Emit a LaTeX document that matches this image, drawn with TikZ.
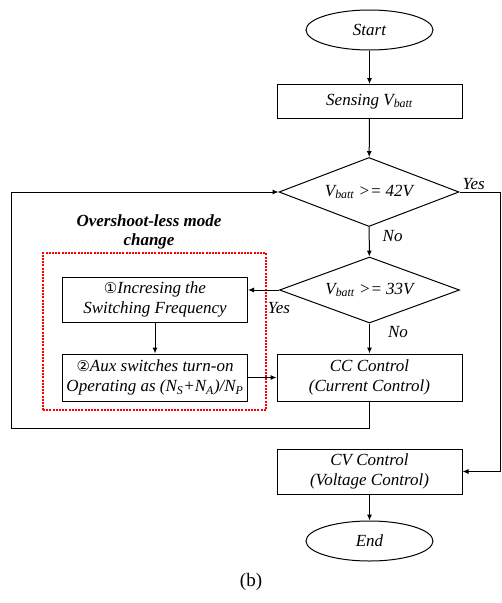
\documentclass[tikz,border=0pt]{standalone}
\usepackage{fontspec}
\setmainfont{Liberation Serif}
\newfontfamily\circfont{DejaVu Sans}
\usetikzlibrary{shapes.geometric,arrows.meta}
\begin{document}
\begin{tikzpicture}[
    x=1pt, y=1pt,
    font=\fontsize{17}{20}\selectfont\itshape,
    every path/.style={line width=1pt},
    term/.style={ellipse, draw, minimum width=127, minimum height=40, inner sep=0pt},
    proc/.style={rectangle, draw, minimum width=185, minimum height=45, align=center, inner sep=1pt},
    test/.style={diamond, draw, aspect=2.6, minimum width=180, minimum height=69, inner sep=0pt},
    grpbox/.style={rectangle, draw=red, dash pattern=on 2pt off 1.2pt, line width=1.2pt, minimum width=223, minimum height=157},
    arrow/.style={-{Latex[length=6pt,width=5pt]}},
    lbl/.style={inner sep=2pt}
]
\useasboundingbox (0,0) rectangle (502,-603);

\node[term] (start) at (369.5,-30) {Start};
\node[proc, minimum height=34] (sense) at (369.5,-101.5) {Sensing V\textsubscript{batt}};
\node[test] (dec1) at (369,-192) {V\textsubscript{batt} >= 42V};
\node[test, minimum height=66] (dec2) at (369.5,-290) {V\textsubscript{batt} >= 33V};
\node[proc] (freq) at (155,-299.5) {{\circfont\fontsize{15}{20}\selectfont ①}Incresing the\\Switching Frequency};
\node[proc, minimum height=47] (aux) at (155,-377.5) {{\circfont\fontsize{15}{20}\selectfont ②}Aux switches turn-on\\Operating as (N\textsubscript{S}+N\textsubscript{A})/N\textsubscript{P}};
\node[proc, minimum height=47] (cc) at (369.5,-377.5) {CC Control\\(Current Control)};
\node[proc] (cv) at (369.5,-471.5) {CV Control\\(Voltage Control)};
\node[term] (end) at (369.5,-541) {End};

\node[grpbox] (grp) at (154.5,-331.5) {};
\node[align=center, font=\fontsize{17}{19}\selectfont\bfseries\itshape] (title) at (149,-232) {Overshoot-less mode\\change};
\node[font=\fontsize{19}{22}\selectfont\upshape] (cap) at (251,-582) {(b)};

\coordinate (rt) at (500,-192);
\coordinate (lb) at (11,-428);

\draw[arrow] (start) -- (sense);
\draw[arrow] (sense) -- (dec1);
\draw[arrow] (dec1) -- node[lbl, right=11pt, pos=0.3] {No} (dec2);
\draw[arrow] (dec2) -- node[lbl, right=16pt, pos=0.3] {No} (cc);
\draw[arrow] (dec2.west) -- node[lbl, below=10pt, pos=0] {Yes} (dec2.west -| freq.east);
\draw[arrow] (freq) -- (aux);
\draw[arrow] (aux) -- (cc);
\draw[arrow] (dec1.east) -- node[lbl, above, pos=0.35] {Yes} (rt) |- (cv.east);
\draw[arrow] (cc.south) |- (lb) |- (dec1.west);
\draw[arrow] (cv) -- (end);
\end{tikzpicture}
\end{document}
